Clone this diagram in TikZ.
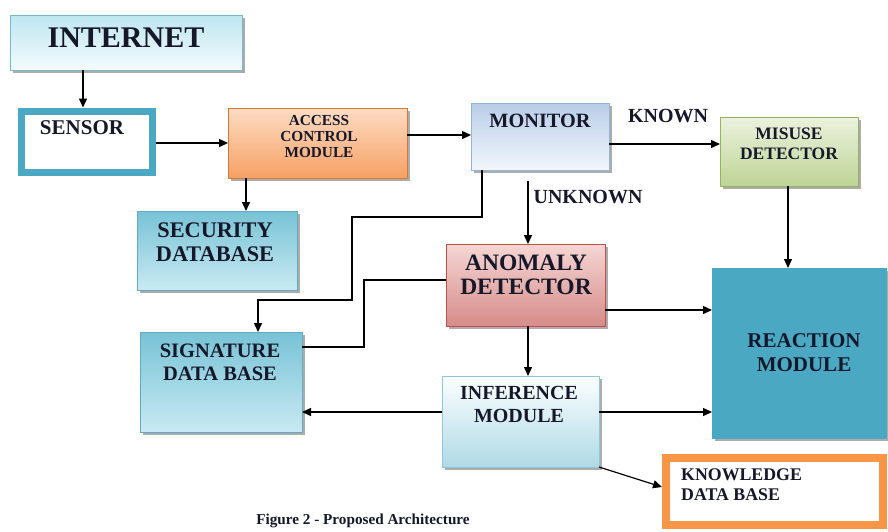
\documentclass[tikz,border=0pt]{standalone}
\usepackage{fontspec}
\setmainfont{Liberation Serif}
\usetikzlibrary{arrows.meta,shadows,calc}
\definecolor{txt}{RGB}{22,24,42}
\definecolor{teal1}{RGB}{75,168,194}
\definecolor{orng}{RGB}{247,150,70}
\definecolor{inetD}{RGB}{120,184,204}
\definecolor{inetT}{RGB}{190,230,240}
\definecolor{inetB}{RGB}{244,251,253}
\definecolor{acmD}{RGB}{215,120,50}
\definecolor{acmT}{RGB}{253,220,196}
\definecolor{acmB}{RGB}{246,160,100}
\definecolor{monD}{RGB}{149,179,215}
\definecolor{monT}{RGB}{185,205,232}
\definecolor{monB}{RGB}{242,246,252}
\definecolor{misD}{RGB}{150,180,90}
\definecolor{misT}{RGB}{236,242,222}
\definecolor{misB}{RGB}{190,212,150}
\definecolor{dbD}{RGB}{100,170,190}
\definecolor{dbT}{RGB}{120,194,214}
\definecolor{dbB}{RGB}{200,234,242}
\definecolor{anoD}{RGB}{192,80,77}
\definecolor{anoT}{RGB}{244,214,212}
\definecolor{anoB}{RGB}{214,140,138}
\definecolor{infD}{RGB}{140,200,218}
\definecolor{infT}{RGB}{252,254,255}
\definecolor{infB}{RGB}{176,218,230}
\newcommand{\myfs}[2]{\fontsize{#1}{#2}\selectfont}
\begin{document}
\begin{tikzpicture}[x=1pt,y=-1pt,
  box/.style={draw, line width=0.8pt, inner sep=0pt, outer sep=0pt, anchor=north west,
    drop shadow={shadow xshift=3pt,shadow yshift=-3pt,fill=black!50,opacity=0.65}},
  lbl/.style={font=\bfseries, text=txt, align=center, inner sep=0pt},
  arr/.style={line width=1.4pt, -{Triangle[length=9pt,width=8pt]}},
  wire/.style={line width=1.4pt}]
\useasboundingbox[fill=white] (0,0) rectangle (888,531);

% boxes
\node[box, draw=inetD, top color=inetT, bottom color=inetB,
  minimum width=232pt, minimum height=55pt] (internet) at (10,15) {};
\node[box, draw=teal1, line width=7pt, fill=white, outer sep=3.5pt,
  minimum width=131pt, minimum height=61pt] (sensor) at (17.5,107.5) {};
\node[box, draw=acmD, shading angle=45, top color=acmT, bottom color=acmB,
  minimum width=179pt, minimum height=70pt] (acm) at (228,108) {};
\node[box, draw=monD, top color=monT, bottom color=monB,
  minimum width=138pt, minimum height=67pt] (monitor) at (471,103) {};
\node[box, draw=misD, shading angle=45, top color=misT, bottom color=misB,
  minimum width=138pt, minimum height=69pt] (misuse) at (720,117) {};
\node[box, draw=dbD, shading angle=-45, top color=dbT, bottom color=dbB,
  minimum width=160pt, minimum height=79pt] (security) at (137,211) {};
\node[box, draw=anoD, shading angle=45, top color=anoT, bottom color=anoB,
  minimum width=159pt, minimum height=82pt] (anomaly) at (446,244) {};
\node[box, draw=teal1, fill=teal1,
  minimum width=174pt, minimum height=170pt] (reaction) at (712,268) {};
\node[box, draw=dbD, shading angle=-45, top color=dbT, bottom color=dbB,
  minimum width=162pt, minimum height=100pt] (signature) at (140,332) {};
\node[box, draw=infD, top color=infT, bottom color=infB,
  minimum width=157pt, minimum height=91pt] (inference) at (442,376) {};
\node[box, draw=orng, line width=8pt, fill=white, outer sep=4pt,
  minimum width=217pt, minimum height=67pt] (knowledge) at (662,454) {};

% labels
\node[lbl, font=\bfseries\myfs{30}{30}] (t-internet) at (126,38) {INTERNET};
\node[lbl, font=\bfseries\myfs{21}{22}] (t-sensor) at (82,128) {SENSOR};
\node[lbl, font=\bfseries\myfs{15.3}{16}] (t-acm) at (319,137) {ACCESS\\CONTROL\\MODULE};
\node[lbl, font=\bfseries\myfs{20.3}{22}] (t-monitor) at (540,121) {MONITOR};
\node[lbl, font=\bfseries\myfs{20}{22}] (t-known) at (668,116) {KNOWN};
\node[lbl, font=\bfseries\myfs{17.5}{19.5}] (t-misuse) at (789,144) {MISUSE\\DETECTOR};
\node[lbl, font=\bfseries\myfs{20}{22}] (t-unknown) at (588,197) {UNKNOWN};
\node[lbl, font=\bfseries\myfs{22.3}{24}] (t-security) at (215,242) {SECURITY\\DATABASE};
\node[lbl, font=\bfseries\myfs{23.5}{24}] (t-anomaly) at (526,275) {ANOMALY\\DETECTOR};
\node[lbl, font=\bfseries\myfs{21}{24}] (t-reaction) at (804,353) {REACTION\\MODULE};
\node[lbl, font=\bfseries\myfs{20.5}{23}] (t-signature) at (220,362) {SIGNATURE\\DATA BASE};
\node[lbl, font=\bfseries\myfs{20}{23}] (t-inference) at (519,404) {INFERENCE\\MODULE};
\node[lbl, font=\bfseries\myfs{17.8}{20}, align=left, anchor=west] (t-knowledge) at (681,485) {KNOWLEDGE\\DATA BASE};
\node[lbl, font=\bfseries\myfs{15.2}{16}] (caption) at (363,521) {Figure 2 - Proposed Architecture};

% connectors
\draw[arr] (internet.south -| 83,0) -- (sensor.north -| 83,0);
\draw[arr] (sensor.east |- 0,143) -- (acm.west |- 0,143);
\draw[arr] (acm.east |- 0,135) -- (monitor.west |- 0,135);
\draw[arr] (monitor.east |- 0,144) -- (misuse.west |- 0,144);
\draw[arr] (misuse.south -| 788,0) -- (reaction.north -| 788,0);
\draw[arr] (acm.south -| 246,0) -- (security.north -| 246,0);
\draw[arr] ($(monitor.south -| 528,0)+(0,11)$) -- (anomaly.north -| 528,0);
\draw[arr] (monitor.south -| 482,0) -- (482,217) -- (352,217) -- (352,300) -| (signature.north -| 258,0);
\draw[wire] (anomaly.west |- 0,280) -| (364,347) -- (signature.east |- 0,347);
\draw[arr] (anomaly.east |- 0,310) -- (reaction.west |- 0,310);
\draw[arr] (anomaly.south -| 528,0) -- (inference.north -| 528,0);
\draw[arr] (inference.east |- 0,412) -- (reaction.west |- 0,412);
\draw[arr] (inference.west |- 0,412) -- (signature.east |- 0,412);
\draw[line width=1.2pt, -{Triangle[length=9pt,width=8pt]}] (inference.south east) -- (knowledge.west |- 0,487);
\end{tikzpicture}
\end{document}
